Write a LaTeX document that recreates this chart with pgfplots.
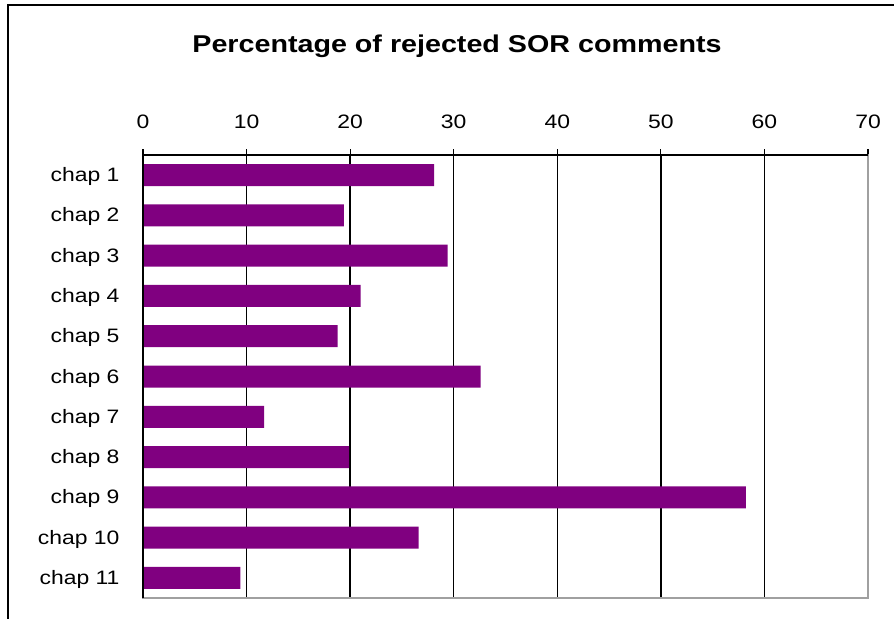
\documentclass[border=0pt]{standalone}
\usepackage{fontspec}
\setmainfont{Liberation Sans}[FakeStretch=1.18]
\usepackage{pgfplots}
\pgfplotsset{compat=1.18}
\definecolor{barpurple}{HTML}{800080}
\definecolor{bordergray}{HTML}{A0A0A0}
\begin{document}
\begin{tikzpicture}
\useasboundingbox (0,0) rectangle (894bp,-619bp);
\draw[line width=2bp] (8bp,-619bp) -- (8bp,-5bp) -- (894bp,-5bp);
\node[font=\fontsize{24.4}{28}\selectfont\bfseries] at (457bp,-46bp) {Percentage of rejected SOR comments};
\begin{axis}[
  at={(143bp,-155bp)}, anchor=north west, scale only axis,
  width=725bp, height=443bp,
  xbar, bar width=22bp, bar shift=0pt,
  xmin=0, xmax=70, xtick={0,10,...,70},
  xticklabel pos=upper, xtick pos=upper,
  ymin=-0.5, ymax=10.5, y dir=reverse,
  ytick={0,...,10},
  yticklabels={chap 1,chap 2,chap 3,chap 4,chap 5,chap 6,chap 7,chap 8,chap 9,chap 10,chap 11},
  ytick pos=lower,
  minor ytick={-0.5,0.5,...,10.5},
  ytick style={draw=none},
  minor y tick style={black, line width=1.2bp},
  xtick style={black, line width=1.2bp},
  tick align=outside, major tick length=6bp, minor tick length=7bp,
  xmajorgrids, major grid style={black, line width=1.4bp},
  axis line style={draw=bordergray, line width=1.3bp},
  tick label style={font=\fontsize{19.5}{22}\selectfont},
  x tick label style={yshift=17bp},
  y tick label style={xshift=-14bp, yshift=-1.5bp},
  /pgf/number format/assume math mode=true,
  clip=false,
]
\addplot[fill=barpurple, draw=none] coordinates {
  (28.1,0) (19.4,1) (29.4,2) (21.0,3) (18.8,4) (32.6,5)
  (11.7,6) (19.9,7) (58.2,8) (26.6,9) (9.4,10)
};
\draw[black, line width=1.3bp] (axis cs:0,10.5) -- (axis cs:0,-0.5) -- (axis cs:70,-0.5);
\end{axis}
\end{tikzpicture}
\end{document}
